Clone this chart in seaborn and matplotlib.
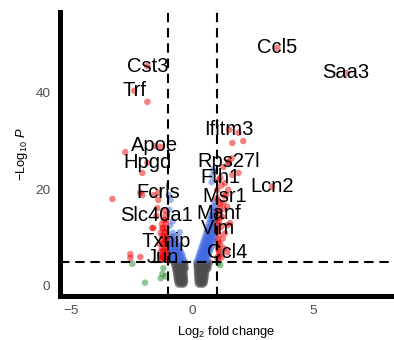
import matplotlib
matplotlib.use("Agg")
import matplotlib.pyplot as plt
import seaborn as sns
import pandas as pd

# Labelled genes (log2 fold change, -log10 p)
label_genes = ["Ccl5", "Saa3", "Cst3", "Trf", "Apoe", "Hpgd", "Ifitm3", "Rps27l",
               "Fth1", "Msr1", "Lcn2", "Manf", "Vim", "Ccl4", "Fcrls", "Slc40a1",
               "Txnip", "Jun"]
label_fc = [3.5, 6.34, -1.85, -2.39, -1.56, -1.85, 1.52, 1.48,
            1.15, 1.32, 3.29, 1.07, 1.07, 1.44, -1.4, -1.48,
            -1.07, -1.23]
label_p = [49.3, 44.1, 45.5, 40.4, 29.0, 25.5, 32.3, 25.7,
           22.4, 18.6, 20.5, 15.1, 11.8, 7.0, 19.3, 14.5,
           9.3, 6.0]

# Not significant (down side)
ns_down_fc = [-0.76, -0.67, -0.58, -0.49, -0.4, -0.31,
              -0.74, -0.65, -0.56, -0.47, -0.38, -0.29,
              -0.73, -0.64, -0.55, -0.46, -0.37, -0.29,
              -0.71, -0.62, -0.53, -0.44, -0.36, -0.28,
              -0.7, -0.61, -0.52, -0.43, -0.35, -0.28,
              -0.68, -0.59, -0.5, -0.42, -0.34,
              -0.67, -0.58, -0.49, -0.41, -0.33,
              -0.66, -0.57, -0.48, -0.4, -0.32,
              -0.65, -0.56, -0.47, -0.39, -0.31,
              -0.64, -0.55, -0.46, -0.38, -0.31,
              -0.63, -0.54, -0.45, -0.37, -0.3,
              -0.62, -0.53, -0.45, -0.37, -0.3,
              -0.6, -0.52, -0.44, -0.36, -0.3,
              -0.58, -0.5, -0.42, -0.35]
ns_down_p = [4.85, 4.8, 4.9, 4.85, 4.8, 4.9,
             4.5, 4.55, 4.45, 4.5, 4.55, 4.45,
             4.15, 4.1, 4.2, 4.15, 4.1, 4.2,
             3.8, 3.85, 3.75, 3.8, 3.85, 3.75,
             3.45, 3.4, 3.5, 3.45, 3.4, 3.5,
             3.1, 3.15, 3.05, 3.1, 3.15,
             2.75, 2.7, 2.8, 2.75, 2.7,
             2.4, 2.45, 2.35, 2.4, 2.45,
             2.05, 2.0, 2.1, 2.05, 2.0,
             1.7, 1.75, 1.65, 1.7, 1.75,
             1.35, 1.3, 1.4, 1.35, 1.3,
             1.0, 1.05, 0.95, 1.0, 1.05,
             0.65, 0.6, 0.7, 0.65, 0.6,
             0.3, 0.35, 0.25, 0.3]

# Not significant (up side)
ns_up_fc = [0.17, 0.27, 0.37, 0.47, 0.57, 0.67, 0.73,
            0.18, 0.28, 0.38, 0.48, 0.58, 0.68,
            0.18, 0.28, 0.38, 0.48, 0.58, 0.67,
            0.19, 0.29, 0.39, 0.49, 0.58, 0.66,
            0.19, 0.29, 0.39, 0.48, 0.57, 0.65,
            0.2, 0.3, 0.39, 0.48, 0.57,
            0.2, 0.3, 0.39, 0.48, 0.56,
            0.2, 0.3, 0.39, 0.47, 0.55,
            0.21, 0.3, 0.39, 0.47, 0.55,
            0.21, 0.3, 0.38, 0.46, 0.54,
            0.22, 0.3, 0.38, 0.46, 0.53,
            0.22, 0.3, 0.38, 0.45, 0.52,
            0.23, 0.31, 0.38, 0.45, 0.51,
            0.25, 0.32, 0.39, 0.46]
ns_up_p = [4.85, 4.8, 4.9, 4.85, 4.8, 4.9, 4.85,
           4.5, 4.55, 4.45, 4.5, 4.55, 4.45,
           4.15, 4.1, 4.2, 4.15, 4.1, 4.2,
           3.8, 3.85, 3.75, 3.8, 3.85, 3.75,
           3.45, 3.4, 3.5, 3.45, 3.4, 3.5,
           3.1, 3.15, 3.05, 3.1, 3.15,
           2.75, 2.7, 2.8, 2.75, 2.7,
           2.4, 2.45, 2.35, 2.4, 2.45,
           2.05, 2.0, 2.1, 2.05, 2.0,
           1.7, 1.75, 1.65, 1.7, 1.75,
           1.35, 1.3, 1.4, 1.35, 1.3,
           1.0, 1.05, 0.95, 1.0, 1.05,
           0.65, 0.6, 0.7, 0.65, 0.6,
           0.3, 0.35, 0.25, 0.3]

# Fold change passes, p-value does not
fc_only_fc = [-2.47, -1.95, -1.3, -1.23, -1.19, -1.1, 1.15, 1.07]
fc_only_p = [4.6, 0.7, 1.6, 2.5, 3.7, 2.0, 4.3, 4.8]

# p-value passes, fold change does not (down side)
p_down_fc = [-0.95, -0.86, -0.77, -0.68, -0.59, -0.5, -0.41, -0.33,
             -0.94, -0.85, -0.76, -0.67, -0.58, -0.49, -0.4,
             -0.93, -0.84, -0.75, -0.66, -0.57, -0.48, -0.4,
             -0.92, -0.83, -0.74, -0.65, -0.56, -0.47,
             -0.91, -0.82, -0.73, -0.64, -0.55,
             -0.9, -0.81, -0.72, -0.63, -0.54,
             -0.9, -0.8, -0.7, -0.6,
             -0.88, -0.78, -0.68,
             -0.86, -0.75, -0.6,
             -0.8, -0.52,
             -0.92, -0.8, -0.95, -0.9, -0.97]
p_down_p = [5.3, 5.35, 5.25, 5.3, 5.35, 5.25, 5.3, 5.35,
            5.9, 5.95, 5.85, 5.9, 5.95, 5.85, 5.9,
            6.5, 6.55, 6.45, 6.5, 6.55, 6.45, 6.5,
            7.1, 7.15, 7.05, 7.1, 7.15, 7.05,
            7.7, 7.75, 7.65, 7.7, 7.75,
            8.3, 8.35, 8.25, 8.3, 8.35,
            8.9, 8.95, 8.85, 8.9,
            9.5, 9.6, 9.45,
            10.2, 10.3, 10.1,
            11.0, 11.1,
            12.5, 13.4, 15.8, 17.8, 18.8]

# p-value passes, fold change does not (up side)
p_up_fc = [0.2, 0.28, 0.36, 0.44, 0.52, 0.6,
           0.24, 0.32, 0.4, 0.48, 0.56, 0.64,
           0.28, 0.36, 0.44, 0.52, 0.6, 0.68,
           0.32, 0.4, 0.48, 0.56, 0.64, 0.72,
           0.36, 0.44, 0.52, 0.6, 0.68, 0.76,
           0.4, 0.48, 0.56, 0.64, 0.72, 0.8,
           0.44, 0.52, 0.6, 0.68, 0.76, 0.84,
           0.48, 0.56, 0.64, 0.72, 0.8, 0.88,
           0.52, 0.6, 0.68, 0.76, 0.84, 0.92,
           0.56, 0.64, 0.72, 0.8, 0.88, 0.95,
           0.6, 0.68, 0.76, 0.84, 0.92,
           0.64, 0.72, 0.8, 0.88, 0.96,
           0.68, 0.76, 0.84, 0.92,
           0.72, 0.8, 0.88, 0.96,
           0.76, 0.84, 0.92,
           0.8, 0.9, 0.97,
           0.86, 0.95,
           0.92,
           0.8, 0.82, 0.86]
p_up_p = [5.3, 5.35, 5.25, 5.3, 5.35, 5.25,
          5.9, 5.95, 5.85, 5.9, 5.95, 5.85,
          6.5, 6.55, 6.45, 6.5, 6.55, 6.45,
          7.1, 7.15, 7.05, 7.1, 7.15, 7.05,
          7.7, 7.75, 7.65, 7.7, 7.75, 7.65,
          8.3, 8.35, 8.25, 8.3, 8.35, 8.25,
          8.9, 8.95, 8.85, 8.9, 8.95, 8.85,
          9.5, 9.55, 9.45, 9.5, 9.55, 9.45,
          10.1, 10.15, 10.05, 10.1, 10.15, 10.05,
          10.8, 10.85, 10.75, 10.8, 10.85, 10.75,
          11.5, 11.55, 11.45, 11.5, 11.55,
          12.2, 12.25, 12.15, 12.2, 12.25,
          13.0, 13.05, 12.95, 13.0,
          13.8, 13.85, 13.75, 13.8,
          14.6, 14.65, 14.55,
          15.5, 15.45, 15.55,
          16.5, 16.45,
          17.5,
          21.5, 22.8, 24.0]

# Both pass (unlabelled)
sig_fc = [-1.04, -1.12, -1.2, -1.3, -1.05, -1.13, -1.22, -1.33,
          -1.04, -1.12, -1.21, -1.3, -1.05, -1.14, -1.24,
          -1.04, -1.12, -1.22, -1.35, -1.05, -1.14, -1.25,
          -1.04, -1.13, -1.24, -1.06, -1.16, -1.3,
          -1.05, -1.2, -1.08, -1.25, -1.06, -1.18, -1.1,
          -1.6, -1.12, -1.44, -1.4, -1.6, -2.06, -2.14, -3.29, -2.06, -2.76,
          -1.32, -1.85, -2.55, -2.55, -2.14, -1.65, -1.23,
          1.05, 1.12, 1.2, 1.08, 1.3, 1.15, 1.05, 1.25, 1.1, 1.35,
          1.02, 1.2, 1.45, 1.1, 1.56, 1.23, 1.05, 1.3, 1.44, 1.15,
          1.28, 1.03, 1.4, 1.48, 1.03, 1.2, 1.35, 1.1, 1.65, 1.9,
          1.28, 1.5, 1.62, 1.65, 2.1, 1.9,
          1.04, 1.1, 1.04, 1.08, 1.03, 1.06, 1.12, 1.04]
sig_p = [5.5, 5.5, 5.6, 5.5, 6.3, 6.3, 6.2, 6.3,
         7.1, 7.1, 7.2, 7.1, 7.9, 7.9, 7.8,
         8.7, 8.7, 8.8, 8.7, 9.5, 9.5, 9.6,
         10.3, 10.3, 10.4, 11.1, 11.1, 11.0,
         11.9, 11.9, 12.8, 12.8, 13.7, 13.7, 14.6,
         12.0, 15.6, 16.1, 17.8, 18.8, 18.8, 19.3, 18.0, 23.4, 27.7,
         28.8, 38.1, 6.6, 5.8, 6.0, 12.0, 12.0,
         5.6, 6.4, 5.9, 7.5, 7.8, 8.6, 9.5, 9.8, 10.6, 10.9,
         11.5, 12.3, 12.6, 13.4, 13.0, 14.3, 15.5, 15.9, 16.4, 17.0,
         17.2, 18.2, 18.9, 19.9, 19.9, 20.8, 21.3, 22.0, 23.0, 23.4,
         24.6, 25.5, 26.4, 29.6, 30.0, 31.7,
         6.0, 7.0, 8.1, 9.0, 12.8, 13.9, 16.2, 17.6]

groups = ["NS", "Log2 FC", "p-value", "p - value and log2 FC"]
colors = ["#4d4d4d", "#228B22", "#4169E1", "#EE0000"]

df = pd.concat([
    pd.DataFrame({"fc": ns_down_fc + ns_up_fc, "p": ns_down_p + ns_up_p, "group": groups[0]}),
    pd.DataFrame({"fc": fc_only_fc, "p": fc_only_p, "group": groups[1]}),
    pd.DataFrame({"fc": p_down_fc + p_up_fc, "p": p_down_p + p_up_p, "group": groups[2]}),
    pd.DataFrame({"fc": sig_fc, "p": sig_p, "group": groups[3]}),
    pd.DataFrame({"fc": label_fc, "p": label_p, "group": groups[3]}),
], ignore_index=True)

sns.set_style("white")
plt.rcParams["font.family"] = ["Liberation Sans", "DejaVu Sans"]
plt.rcParams["mathtext.fontset"] = "custom"
plt.rcParams["mathtext.rm"] = "Liberation Sans"
plt.rcParams["mathtext.it"] = "Liberation Sans:italic"

fig = plt.figure(figsize=(3.94, 3.40), dpi=100)
ax = fig.add_axes([59.5 / 394, 1 - 296 / 340, (394 - 59.5) / 394, (296 - 12) / 340])

sns.scatterplot(data=df, x="fc", y="p", hue="group", hue_order=groups,
                palette=colors, alpha=0.5, s=22, linewidth=0, legend=False, ax=ax)

for g, xv, yv in zip(label_genes, label_fc, label_p):
    ax.text(xv, yv, g, ha="center", va="center", fontsize=14.5, color="black")

dash = (0, (4.5, 2.8))
ax.axvline(-1, color="black", lw=1.5, ls=dash)
ax.axvline(1, color="black", lw=1.5, ls=dash)
ax.axhline(5, color="black", lw=1.5, ls=dash)

ax.set_xlim(-5.47, 8.31)
ax.set_ylim(-2.07, 56.7)
ax.set_xticks([-5, 0, 5])
ax.set_yticks([0, 20, 40])

for side in ["top", "right"]:
    ax.spines[side].set_visible(False)
for side in ["left", "bottom"]:
    ax.spines[side].set_linewidth(3.6)
    ax.spines[side].set_color("black")

ax.tick_params(axis="both", which="major", direction="out", length=3.5, width=4,
               color="#333333", labelcolor="#4d4d4d", labelsize=9.7, pad=3)

ax.set_xlabel("Log$_2$ fold change", fontsize=9.3, color="black", labelpad=5)
ax.set_ylabel("$-$Log$_{10}$ $\\mathit{P}$", fontsize=9.3, color="black", labelpad=4)

fig.savefig("out.png", dpi=100)
